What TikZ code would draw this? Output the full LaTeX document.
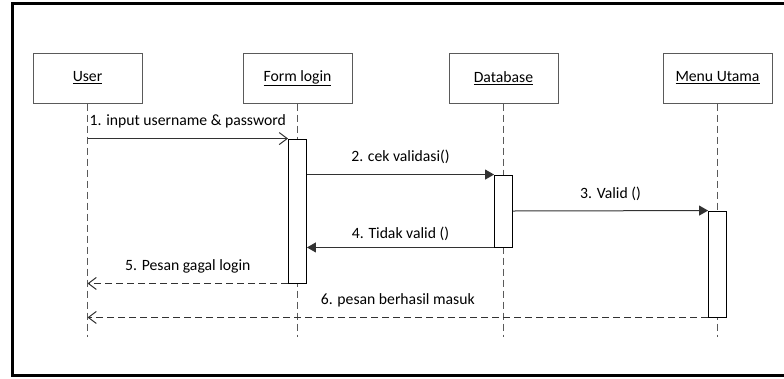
\documentclass[tikz,border=0pt]{standalone}
\usepackage{fontspec}
\setmainfont{Carlito}
\usetikzlibrary{positioning, arrows.meta}
\definecolor{LineGray}{RGB}{50, 50, 50}
\definecolor{BoxGray}{RGB}{90, 90, 90}

\begin{document}
\begin{tikzpicture}[x=1pt, y=-1pt, font=\fontsize{15.7}{18}\selectfont,
  obj/.style={rectangle, draw=BoxGray, line width=1pt, minimum width=109pt, minimum height=50pt, inner sep=0pt},
  act/.style={rectangle, draw, fill=white, line width=0.9pt, minimum width=18pt, inner sep=0pt},
  lifeline/.style={draw=BoxGray, line width=1pt, dash pattern=on 7pt off 4pt},
  call/.style={-{Triangle[length=9pt,width=10pt]}, draw=LineGray, line width=1pt},
  msg/.style={-{Straight Barb[length=8pt,width=12pt]}, draw=LineGray, line width=1pt},
  reply/.style={msg, dash pattern=on 7pt off 4pt},
  lbl/.style={inner sep=0pt, above=10pt, midway}]
\useasboundingbox (0,0) rectangle (784,378);
\clip (0,0) rectangle (784,378);
\draw[line width=3pt] (12,3.5) rectangle (800,375.5);
% objects
\node[obj] (user) at (87.5,78) {\underline{User}};
\node[obj] (form) at (297.5,78) {\underline{Form login}};
\node[obj] (db) at (503.5,78) {\underline{Database}};
\node[obj] (menu) at (717.5,78) {\underline{Menu Utama}};
% lifelines
\coordinate (userend) at (87.5,337);
\coordinate (formend) at (297.5,337);
\coordinate (dbend) at (503.5,337);
\coordinate (menuend) at (717.5,337);
\draw[lifeline] (user) -- (userend);
\draw[lifeline] (form) -- (formend);
\draw[lifeline] (db) -- (dbend);
\draw[lifeline] (menu) -- (menuend);
% activations
\node[act, minimum height=144pt] (formact) at (297.5,211) {};
\node[act, minimum height=72pt] (dbact) at (503.5,211) {};
\node[act, minimum height=106pt] (menuact) at (717.5,264) {};
% messages
\draw[msg] (user.south |- formact.north west) -- (formact.north west) node[lbl] {1. input username \& password};
\draw[call] (formact.east |- dbact.north west) -- (dbact.north west) node[lbl] {2. cek validasi()};
\draw[call] (dbact.east) -- (menuact.north west) node[lbl] {3. Valid ()};
\draw[call] (dbact.south west) -- (formact.east |- dbact.south west) node[lbl, above=6pt] {4. Tidak valid ()};
\draw[reply] (formact.south west) -- (userend |- formact.south west) node[lbl] {5. Pesan gagal login};
\draw[reply] (menuact.south west) -- (userend |- menuact.south west) node[lbl] {6. pesan berhasil masuk};
\end{tikzpicture}
\end{document}
